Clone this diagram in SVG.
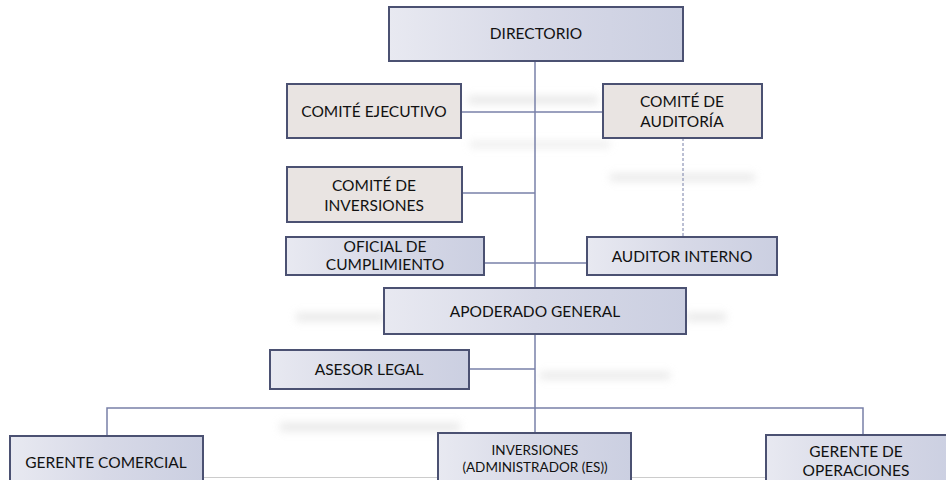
<svg xmlns="http://www.w3.org/2000/svg" width="946" height="480" viewBox="0 0 946 480">
<defs>
<linearGradient id="gBlue" x1="0" y1="0" x2="1" y2="0">
<stop offset="0" stop-color="#e8e9f1"/>
<stop offset="0.5" stop-color="#d7d9e7"/>
<stop offset="1" stop-color="#cbcfe1"/>
</linearGradient>
<filter id="blur" x="-20%" y="-300%" width="140%" height="700%">
<feGaussianBlur stdDeviation="4"/>
</filter>
<style>
.box{fill:url(#gBlue);stroke:#4b5172;stroke-width:2}
.beige{fill:#e9e4e2;stroke:#4b5172;stroke-width:2}
.t{font-family:"Lato","Liberation Sans",sans-serif;font-size:15.5px;fill:#111;text-anchor:middle}
.ts{font-family:"Lato","Liberation Sans",sans-serif;font-size:13.5px;fill:#111;text-anchor:middle}
.c{stroke:#7880a8;stroke-width:1.5;fill:none}
.d{stroke:#7880a8;stroke-width:1;fill:none;stroke-dasharray:3 2}
.sh{fill:#d4d4d4;filter:url(#blur);opacity:0.55}
</style>
</defs>
<g id="shadows">
<rect class="sh" x="468" y="96" width="130" height="8"/>
<rect class="sh" x="470" y="142" width="140" height="5" opacity="0.3"/>
<rect class="sh" x="610" y="174" width="145" height="7"/>
<rect class="sh" x="296" y="313" width="90" height="8"/>
<rect class="sh" x="686" y="313" width="40" height="8" opacity="0.35"/>
<rect class="sh" x="540" y="372" width="130" height="7"/>
<rect class="sh" x="280" y="423" width="180" height="8"/>
</g>
<g id="connectors">
<line class="c" x1="535" y1="61" x2="535" y2="433"/>
<line class="c" x1="461" y1="112" x2="603" y2="112"/>
<line class="c" x1="462" y1="193" x2="535" y2="193"/>
<line class="c" x1="484" y1="263" x2="587" y2="263"/>
<line class="c" x1="469" y1="369" x2="535" y2="369"/>
<line class="d" x1="683" y1="138" x2="683" y2="237"/>
<polyline class="c" points="107,436 107,408 863,408 863,435"/>
<line x1="127" y1="477.5" x2="946" y2="477.5" stroke="#cccccc" stroke-width="1"/>
</g>
<g id="directorio">
<rect class="box" x="389" y="7" width="294" height="54"/>
<text class="t" x="536" y="39">DIRECTORIO</text>
</g>
<g id="comite-ejecutivo">
<rect class="beige" x="287" y="84" width="174" height="54"/>
<text class="t" x="374" y="117">COMITÉ EJECUTIVO</text>
</g>
<g id="comite-auditoria">
<rect class="beige" x="603" y="84" width="159" height="54"/>
<text class="t" x="682" y="107">COMITÉ DE</text>
<text class="t" x="682" y="127">AUDITORÍA</text>
</g>
<g id="comite-inversiones">
<rect class="beige" x="287" y="167" width="175" height="55"/>
<text class="t" x="374" y="191">COMITÉ DE</text>
<text class="t" x="374" y="211">INVERSIONES</text>
</g>
<g id="oficial-cumplimiento">
<rect class="box" x="286" y="237" width="198" height="38"/>
<text class="t" x="385" y="252">OFICIAL DE</text>
<text class="t" x="385" y="270">CUMPLIMIENTO</text>
</g>
<g id="auditor-interno">
<rect class="box" x="587" y="237" width="190" height="38"/>
<text class="t" x="682" y="262">AUDITOR INTERNO</text>
</g>
<g id="apoderado-general">
<rect class="box" x="384" y="288" width="302" height="46"/>
<text class="t" x="535" y="317">APODERADO GENERAL</text>
</g>
<g id="asesor-legal">
<rect class="box" x="270" y="350" width="199" height="39"/>
<text class="t" x="369" y="375">ASESOR LEGAL</text>
</g>
<g id="gerente-comercial">
<rect class="box" x="10" y="436" width="193" height="60"/>
<text class="t" x="106" y="468">GERENTE COMERCIAL</text>
</g>
<g id="inversiones">
<rect class="box" x="438" y="433" width="193" height="60"/>
<text class="ts" x="535" y="455">INVERSIONES</text>
<text class="ts" x="535" y="472">(ADMINISTRADOR (ES))</text>
</g>
<g id="gerente-operaciones">
<rect class="box" x="766" y="435" width="190" height="60"/>
<text class="t" x="856" y="457">GERENTE DE</text>
<text class="t" x="856" y="476">OPERACIONES</text>
</g>
</svg>
